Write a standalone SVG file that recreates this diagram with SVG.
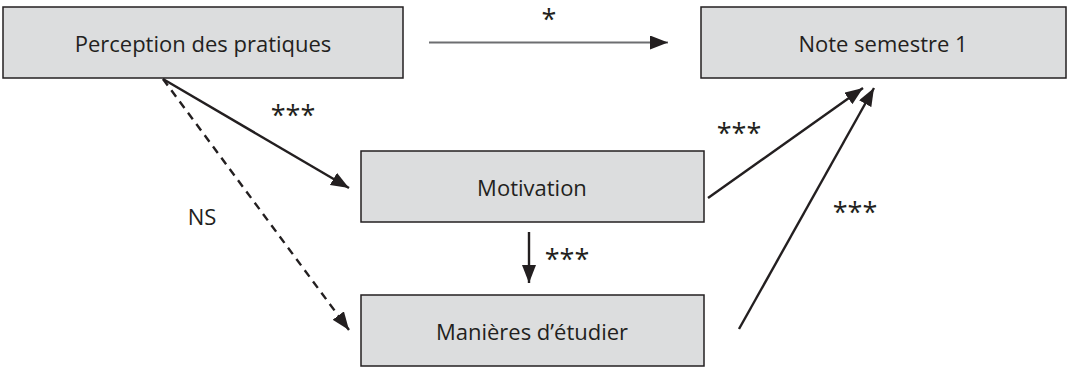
<svg xmlns="http://www.w3.org/2000/svg" width="1069" height="369" viewBox="0 0 1069 369">
<style>
.box{fill:#dcddde;stroke:#231f20;stroke-width:1.5}
.lbl{font-family:"Open Sans","Noto Sans",sans-serif;font-size:22px;fill:#231f20;text-anchor:middle}
.star{font-family:"Open Sans","Noto Sans",sans-serif;font-size:27px;fill:#231f20;text-anchor:middle}
.ln{stroke:#231f20;stroke-width:2.4;fill:none}
</style>
<defs>
<marker id="ah" markerUnits="userSpaceOnUse" markerWidth="19" markerHeight="15" refX="18" refY="7" orient="auto">
<path d="M0,0 L18,7 L0,14 z" fill="#231f20"/>
</marker>
</defs>
<rect width="1069" height="369" fill="#ffffff"/>
<g id="connectors">
<line x1="429" y1="42.5" x2="668" y2="42.5" stroke="#6d6e71" stroke-width="2" marker-end="url(#ah)"/>
<line class="ln" x1="163" y1="79" x2="349" y2="188" marker-end="url(#ah)"/>
<line class="ln" x1="163" y1="79" x2="349" y2="330" stroke-dasharray="8,6" marker-end="url(#ah)"/>
<line class="ln" x1="529" y1="232" x2="529" y2="283" marker-end="url(#ah)"/>
<line class="ln" x1="708" y1="198" x2="863" y2="88" marker-end="url(#ah)"/>
<line class="ln" x1="739" y1="329" x2="874" y2="88" marker-end="url(#ah)"/>
<text class="star" x="549" y="29">*</text>
<text class="star" x="293" y="125">***</text>
<text class="lbl" x="202" y="225">NS</text>
<text class="star" x="567" y="269">***</text>
<text class="star" x="739" y="143">***</text>
<text class="star" x="855" y="222">***</text>
</g>
<g id="node-perception">
<rect class="box" x="3" y="7" width="400" height="71"/>
<text class="lbl" x="203" y="52">Perception des pratiques</text>
</g>
<g id="node-note">
<rect class="box" x="701" y="7" width="365" height="71"/>
<text class="lbl" x="883" y="52">Note semestre 1</text>
</g>
<g id="node-motivation">
<rect class="box" x="361" y="151" width="343" height="71"/>
<text class="lbl" x="532" y="196">Motivation</text>
</g>
<g id="node-manieres">
<rect class="box" x="361" y="295" width="343" height="71"/>
<text class="lbl" x="532" y="340">Manières d’étudier</text>
</g>
</svg>
